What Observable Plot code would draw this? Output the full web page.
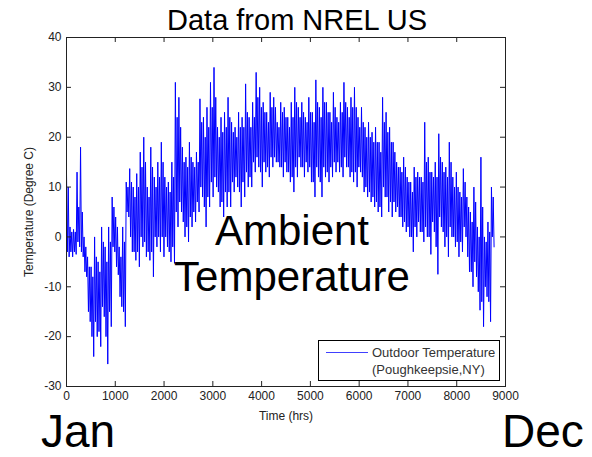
<!DOCTYPE html>
<html>
<head>
<meta charset="utf-8">
<script src="https://cdn.jsdelivr.net/npm/d3@7"></script>
<script src="https://cdn.jsdelivr.net/npm/@observablehq/plot@0.6"></script>
<style>
  html, body { margin: 0; padding: 0; background: #fff; }
  #wrap { position: relative; width: 592px; height: 457px; overflow: hidden; font-family: "Liberation Sans", Arial, sans-serif; }
  .ov { position: absolute; white-space: nowrap; line-height: 1; color: #000; }
</style>
</head>
<body>
<div id="wrap">
  <div id="chart"></div>
  <div class="ov" id="title" style="left:297px; top:6px; font-size:29px; transform:translateX(-50%);">Data from NREL US</div>
  <div class="ov" style="left:292px; top:210px; font-size:42px; transform:translateX(-50%);">Ambient</div>
  <div class="ov" style="left:292px; top:256px; font-size:42px; transform:translateX(-50%);">Temperature</div>
  <div class="ov" style="left:41px; top:408px; font-size:46px;">Jan</div>
  <div class="ov" style="left:502px; top:408px; font-size:46px;">Dec</div>
  <div class="ov" style="left:318px; top:340px; width:180px; height:39px; border:1px solid #000; background:#fff;">
    <div style="position:absolute; left:7px; top:11px; width:42px; height:0; border-top:1px solid #4040ff;"></div>
    <div style="position:absolute; left:53px; top:3px; font-size:13px; color:#333; line-height:17px;">Outdoor Temperature<br>(Poughkeepsie,NY)</div>
  </div>
</div>
<script>
// Hourly temperature over the year, summarised per 72-hour block (°C):
// hi / lo = highest and lowest spike in the block, hi2 / lo2 = second highest / lowest
const blockHours = 72;
const hi = [13, 2, 1.5, 13, 18, 0, -4, -6, 0, -5,
            2, -2, 2, 8, 4, -2, 2, 11, 13.7, 10,
            12.7, 17, 20, 10, 18, 12, 15, 19, 12, 11,
            15, 31, 28, 18, 16, 19, 15, 17, 27.7, 24,
            26, 31, 34, 22, 24, 25, 28, 23, 22, 25,
            24, 30.7, 24, 27, 33, 30, 27, 25, 29, 28,
            23, 27, 26, 24, 27, 30, 26, 27, 24, 28,
            25, 31.5, 26, 30, 27, 25, 29, 24, 27, 31,
            26, 28, 30, 24, 26, 22, 23, 21, 22, 19,
            28, 25, 22, 19, 15, 14, 16, 12, 11, 14,
            13, 12, 23, 16, 13, 15, 20.7, 15, 14, 19,
            12, 13, 9, 13.7, 8, 5, 10, 2, 16, 0,
            3, 10];
const lo = [-4, -4, -3.5, -2, -4, -8, -17, -24, -20, -22,
            -16, -25.5, -18, -3, -7.6, -14, -18, 4, -3, -4.7,
            -6, -2, -4, -4.7, -8, -2, -3, -4, -2, -5,
            -5.3, 2, 5, 0, -1, 2, 3, 5, 8, 2,
            6, 8, 10, 6, 4, 6, 6, 9, 10, 6,
            8, 10, 10, 13, 14, 10, 13, 12, 14, 15,
            14, 12, 13, 11, 9, 12, 14, 12, 13, 11,
            8, 12, 8, 12, 11, 12, 13, 13, 12, 14,
            12, 11, 10, 13, 9, 8, 7, 6, 5, 4,
            8, 5, 4, 5, 4, 2, 1, 0, -3, 0,
            1, -1, 0, -3.5, 1, -7.5, 2, -2, -4, 0,
            -2, -4, -3, 0, -7, -10, -8, -14.7, -18, -12,
            -17, -2];
const hi2 = [10, 1, 1, 6, 5, -2, -6, -8, -4, -7,
            -1, -5, -1, 6, 2, -4, -1, 10, 11, 8,
            10, 14, 15, 8, 14, 10, 12, 15, 10, 9,
            12, 24, 22, 15, 14, 16, 14, 15, 23, 20,
            22, 26, 28, 20, 21, 22, 24, 21, 20, 22,
            22, 25, 22, 24, 28, 26, 25, 23, 26, 26,
            22, 25, 24, 22, 24, 27, 24, 25, 23, 25,
            23, 27, 24, 27, 25, 23, 26, 23, 25, 27,
            24, 26, 26, 22, 23, 20, 20, 19, 19, 17,
            23, 21, 19, 17, 14, 13, 14, 11, 9, 12,
            12, 11, 15, 13, 12, 12, 16, 13, 12, 15,
            10, 10, 8, 11, 6, 3, 7, 0, 6, -1,
            1, 8];
const lo2 = [-3, -3, -3, -1, -3, -7, -15, -20, -17, -19,
            -14, -20, -15, -2, -6, -12, -15, 5, 0, -3,
            -3, 0, -1, -3, -3, 0, 0, 0, 0, -3,
            -2, 5, 7, 3, 2, 4, 5, 7, 10, 6,
            8, 11, 12, 9, 7, 9, 9, 11, 12, 9,
            11, 13, 12, 15, 16, 13, 15, 14, 16, 16,
            15, 14, 15, 13, 12, 14, 16, 14, 15, 14,
            11, 14, 11, 14, 13, 14, 15, 15, 14, 16,
            14, 13, 13, 14, 12, 10, 9, 8, 7, 6,
            10, 8, 7, 7, 6, 4, 3, 2, 0, 2,
            3, 1, 2, 0, 3, -2, 4, 1, 0, 2,
            0, -1, -1, 2, -4, -7, -5, -11, -13, -10,
            -13, 0];
const xTicks = [0, 1000, 2000, 3000, 4000, 5000, 6000, 7000, 8000, 9000];
const yTicks = [-30, -20, -10, 0, 10, 20, 30, 40];

const series = [];
hi.forEach((h, i) => {
  const t0 = i * blockHours;
  series.push({hour: t0, temp: h});
  series.push({hour: t0 + 18, temp: lo2[i]});
  series.push({hour: t0 + 36, temp: hi2[i]});
  series.push({hour: t0 + 54, temp: lo[i]});
});

const W = 592, H = 457, mL = 66, mR = 87, mT = 37, mB = 71;
const pw = W - mL - mR, ph = H - mT - mB, tk = 5;

const chart = Plot.plot({
  width: W, height: H,
  marginLeft: mL, marginRight: mR, marginTop: mT, marginBottom: mB,
  style: {fontFamily: "'Liberation Sans', Arial, sans-serif", fontSize: "12px", color: "#222", background: "#fff"},
  x: {domain: [0, 9000]},
  y: {domain: [-30, 40]},
  marks: [
    Plot.line(series, {x: "hour", y: "temp", stroke: "#0000ff", strokeWidth: 1}),
    Plot.tickY(yTicks, {y: d => d, insetRight: pw - tk, stroke: "#222"}),
    Plot.tickY(yTicks, {y: d => d, insetLeft: pw - tk, stroke: "#222"}),
    Plot.tickX(xTicks, {x: d => d, insetTop: ph - tk, stroke: "#222"}),
    Plot.tickX(xTicks, {x: d => d, insetBottom: ph - tk, stroke: "#222"}),
    Plot.frame({stroke: "#222"}),
    Plot.axisX(xTicks, {tickSize: 0, tickPadding: 5, tickFormat: d => `${d}`, label: "Time (hrs)", labelAnchor: "center", labelOffset: 33, labelArrow: "none"}),
    Plot.axisY(yTicks, {tickSize: 0, tickPadding: 5, tickFormat: d => `${d}`, label: "Temperature (Degree C)", labelAnchor: "center", labelOffset: 42, labelArrow: "none"})
  ]
});
document.getElementById("chart").appendChild(chart);
</script>
</body>
</html>
